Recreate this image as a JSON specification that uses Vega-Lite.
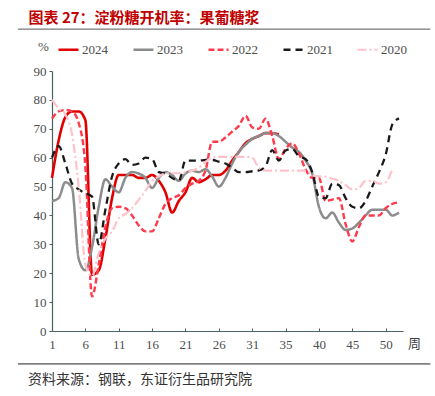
{
  "$schema": "https://vega.github.io/schema/vega-lite/v6.json",
  "width": 351,
  "height": 260,
  "autosize": {"type": "none"},
  "padding": {"left": 52, "top": 71, "right": 32, "bottom": 65},
  "background": "white",
  "title": {
    "text": "资料来源：钢联，东证衍生品研究院",
    "orient": "bottom",
    "anchor": "start",
    "frame": "group",
    "offset": 9,
    "dx": -24,
    "font": "Noto Sans CJK SC",
    "fontSize": 14,
    "fontWeight": "normal",
    "color": "#333333"
  },
  "config": {
    "view": {"stroke": null},
    "axis": {"grid": false, "labelOverlap": false, "labelBound": false}
  },
  "layer": [
    {
      "data": {
        "values": [
          {"w":1,"2024":53,"2023":45,"2022":73.5,"2021":60,"2020":80},
          {"w":2,"2024":66,"2023":46,"2022":76,"2021":64,"2020":77},
          {"w":3,"2024":74,"2023":51.5,"2022":76.5,"2021":58,"2020":75},
          {"w":4,"2024":76,"2023":49.5,"2022":76,"2021":51,"2020":68},
          {"w":5,"2024":76,"2023":25,"2022":72,"2021":49,"2020":50},
          {"w":6,"2024":73,"2023":21,"2022":57,"2021":47.7,"2020":23},
          {"w":7,"2024":19.5,"2023":29,"2022":12,"2021":46.5,"2020":19},
          {"w":8,"2024":21,"2023":43,"2022":23,"2021":30,"2020":27},
          {"w":9,"2024":32,"2023":52.5,"2022":36,"2021":42,"2020":32},
          {"w":10,"2024":46,"2023":50,"2022":42.5,"2021":53.5,"2020":34.5},
          {"w":11,"2024":54,"2023":48,"2022":43,"2021":58,"2020":39},
          {"w":12,"2024":54,"2023":53,"2022":42.5,"2021":59.5,"2020":40.5},
          {"w":13,"2024":54,"2023":55,"2022":40,"2021":57.5,"2020":42.5},
          {"w":14,"2024":53,"2023":54.5,"2022":36.5,"2021":58,"2020":45.5},
          {"w":15,"2024":53,"2023":53,"2022":34.5,"2021":60,"2020":48.5},
          {"w":16,"2024":54,"2023":49.5,"2022":34.5,"2021":59.5,"2020":52},
          {"w":17,"2024":52,"2023":53,"2022":39,"2021":55,"2020":53.5},
          {"w":18,"2024":48,"2023":55,"2022":44,"2021":54.5,"2020":54.5},
          {"w":19,"2024":41,"2023":54,"2022":46,"2021":53,"2020":54.6},
          {"w":20,"2024":45,"2023":52,"2022":47,"2021":52,"2020":54.6},
          {"w":21,"2024":48,"2023":54.5,"2022":49.5,"2021":59,"2020":55},
          {"w":22,"2024":53,"2023":55.5,"2022":51,"2021":59,"2020":55.5},
          {"w":23,"2024":51.5,"2023":55,"2022":52,"2021":59,"2020":56.5},
          {"w":24,"2024":52.5,"2023":56,"2022":55.5,"2021":59.2,"2020":58.5},
          {"w":25,"2024":54,"2023":53.5,"2022":65.5,"2021":59.2,"2020":60},
          {"w":26,"2024":54,"2023":50,"2022":65.5,"2021":58.6,"2020":60.3},
          {"w":27,"2024":55.5,"2023":53,"2022":67,"2021":58,"2020":60.3},
          {"w":28,"2024":59,"2023":58,"2022":69,"2021":56.5,"2020":60.3},
          {"w":29,"2024":62,"2023":62,"2022":71,"2021":55,"2020":60.3},
          {"w":30,"2024":65,"2023":64.5,"2022":74.5,"2021":55,"2020":60.3},
          {"w":31,"2024":66.5,"2023":66.5,"2022":70.5,"2021":55.3,"2020":60},
          {"w":32,"2024":67.5,"2023":67.5,"2022":70,"2021":55.6,"2020":56.5},
          {"w":33,"2024":68.5,"2023":68.5,"2022":73.5,"2021":57,"2020":55.5},
          {"w":34,"2024":68.5,"2023":68.5,"2022":67.5,"2021":62.6,"2020":55.5},
          {"w":35,"2024":68,"2023":67.5,"2022":59.5,"2021":59,"2020":55.5},
          {"w":36,"2023":65.5,"2022":63,"2021":62.5,"2020":55.5},
          {"w":37,"2023":63.5,"2022":65,"2021":63,"2020":55.5},
          {"w":38,"2023":62,"2022":61.5,"2021":60.5,"2020":55.5},
          {"w":39,"2023":59,"2022":56,"2021":59.5,"2020":55.5},
          {"w":40,"2023":54.5,"2022":53,"2021":55,"2020":54},
          {"w":41,"2023":43,"2022":53,"2021":46.5,"2020":53.5},
          {"w":42,"2023":39,"2022":45,"2021":46,"2020":53.4},
          {"w":43,"2023":41,"2022":45.5,"2021":51,"2020":52.7},
          {"w":44,"2023":37.5,"2022":46,"2021":50.5,"2020":52},
          {"w":45,"2023":35,"2022":37,"2021":46,"2020":50.5},
          {"w":46,"2023":35.5,"2022":31,"2021":43,"2020":49},
          {"w":47,"2023":37.5,"2022":36,"2021":42.5,"2020":49.5},
          {"w":48,"2023":40,"2022":40,"2021":45,"2020":52},
          {"w":49,"2023":42,"2022":40,"2021":50,"2020":52},
          {"w":50,"2023":42,"2022":40,"2021":55,"2020":51},
          {"w":51,"2023":42,"2022":42.5,"2021":61,"2020":51.5},
          {"w":52,"2023":40,"2022":44,"2021":71.5,"2020":56},
          {"w":53,"2023":41,"2022":44.5,"2021":73.6}
        ]
      },
      "transform": [
        {"fold": ["2024", "2023", "2022", "2021", "2020"], "as": ["year", "value"]},
        {"filter": "isValid(datum.value)"}
      ],
      "mark": {"type": "line", "interpolate": "monotone"},
      "encoding": {
        "x": {
          "field": "w",
          "type": "quantitative",
          "scale": {"domain": [1, 53.6], "nice": false, "zero": false},
          "axis": {
            "values": [1, 6, 11, 16, 21, 26, 31, 36, 41, 46, 51],
            "tickCount": 60,
            "labelExpr": "datum.value > 31 ? datum.value - 1 : datum.value",
            "labelOverlap": false,
            "title": "周",
            "titleFont": "Noto Sans CJK SC",
            "titleFontSize": 13,
            "titleFontWeight": "normal",
            "titleColor": "#404040",
            "titleX": 362,
            "titleY": 12,
            "titleAlign": "center",
            "titleBaseline": "middle",
            "titleAngle": 0,
            "domainColor": "#4a6262",
            "domainWidth": 1.2,
            "tickColor": "#4a6262",
            "tickSize": -3,
            "labelFont": "Liberation Serif",
            "labelFontSize": 13,
            "labelColor": "#4d4d4d",
            "labelPadding": 10,
            "labelFlush": false
          }
        },
        "y": {
          "field": "value",
          "type": "quantitative",
          "scale": {"domain": [0, 90], "nice": false},
          "axis": {
            "values": [0, 10, 20, 30, 40, 50, 60, 70, 80, 90],
            "tickCount": 20,
            "labelOverlap": false,
            "title": "图表 27：淀粉糖开机率：果葡糖浆",
            "titleFont": "Noto Sans CJK SC",
            "titleFontSize": 15,
            "titleFontWeight": "bold",
            "titleColor": "#c00000",
            "titleAngle": 0,
            "titleX": -24,
            "titleY": -54,
            "titleAlign": "left",
            "titleBaseline": "middle",
            "domainColor": "#4a6262",
            "domainWidth": 1.2,
            "tickColor": "#4a6262",
            "tickSize": 3,
            "labelFont": "Liberation Serif",
            "labelFontSize": 13,
            "labelColor": "#4d4d4d",
            "labelPadding": 3
          }
        },
        "color": {
          "field": "year",
          "type": "nominal",
          "scale": {
            "domain": ["2024", "2023", "2022", "2021", "2020"],
            "range": ["#e00000", "#8c8c8c", "#ff3b4b", "#1a1a1a", "#ffc2ca"]
          },
          "legend": {
            "title": "%",
            "orient": "none",
            "legendX": -14,
            "legendY": -33,
            "direction": "horizontal",
            "titleOrient": "left",
            "titleFont": "Liberation Serif",
            "titleFontSize": 13,
            "titleFontWeight": "normal",
            "titleColor": "#4d4d4d",
            "titlePadding": 8,
            "symbolType": "stroke",
            "symbolSize": 400,
            "symbolStrokeWidth": 2.5,
            "labelFont": "Liberation Serif",
            "labelFontSize": 13,
            "labelColor": "#4d4d4d",
            "labelOffset": 2,
            "columnPadding": 20
          }
        },
        "strokeDash": {
          "field": "year",
          "type": "nominal",
          "scale": {
            "domain": ["2024", "2023", "2022", "2021", "2020"],
            "range": [[1, 0], [1, 0], [6, 3], [7, 5], [9, 3, 2, 3]]
          },
          "legend": {
            "title": "%",
            "orient": "none",
            "legendX": -14,
            "legendY": -33,
            "direction": "horizontal",
            "titleOrient": "left",
            "titleFont": "Liberation Serif",
            "titleFontSize": 13,
            "titleFontWeight": "normal",
            "titleColor": "#4d4d4d",
            "titlePadding": 8,
            "symbolType": "stroke",
            "symbolSize": 400,
            "symbolStrokeWidth": 2.5,
            "labelFont": "Liberation Serif",
            "labelFontSize": 13,
            "labelColor": "#4d4d4d",
            "labelOffset": 2,
            "columnPadding": 20
          }
        },
        "strokeWidth": {
          "field": "year",
          "type": "nominal",
          "scale": {
            "domain": ["2024", "2023", "2022", "2021", "2020"],
            "range": [2.6, 2.2, 2.2, 2.4, 2.2]
          },
          "legend": null
        }
      }
    },
    {
      "data": {"values": [{}]},
      "mark": {"type": "rule", "color": "#555555", "strokeWidth": 1},
      "encoding": {
        "x": {"datum": -4.1},
        "x2": {"datum": 57.7},
        "y": {"datum": 104.5}
      }
    },
    {
      "data": {"values": [{}]},
      "mark": {"type": "rule", "color": "#222222", "strokeWidth": 1},
      "encoding": {
        "x": {"datum": -4.1},
        "x2": {"datum": 57.7},
        "y": {"datum": -11.4}
      }
    }
  ]
}
